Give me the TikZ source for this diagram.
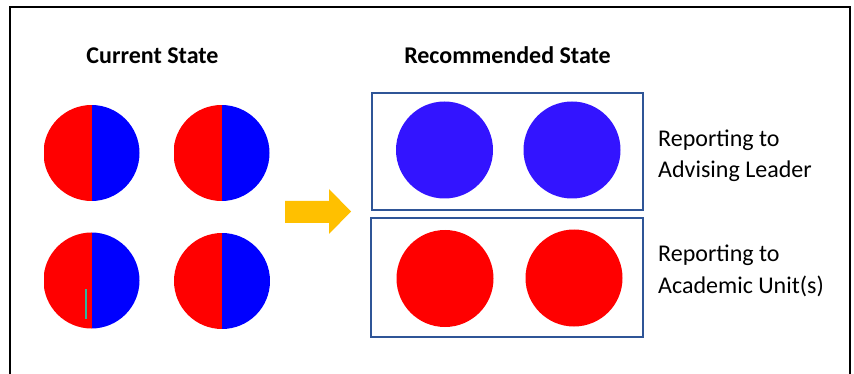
\documentclass[tikz,border=0pt]{standalone}
\usepackage{fontspec}
\setmainfont{Carlito}
\definecolor{halfred}{HTML}{FF0000}
\definecolor{halfblue}{HTML}{0000FF}
\definecolor{recblue}{HTML}{3314FF}
\definecolor{boxblue}{HTML}{2F5597}
\definecolor{arrowgold}{HTML}{FFC000}
\definecolor{marktone}{HTML}{2EB8A0}
\begin{document}
\begin{tikzpicture}[x=1pt,y=-1pt,
  splitdisc/.style={circle,minimum size=96pt,inner sep=0pt,
    path picture={
      \fill[halfred] (path picture bounding box.north west) rectangle (path picture bounding box.south);
      \fill[halfblue] (path picture bounding box.north) rectangle (path picture bounding box.south east);}},
  bluedisc/.style={circle,minimum size=97pt,inner sep=0pt,fill=recblue},
  reddisc/.style={circle,minimum size=97pt,inner sep=0pt,fill=halfred},
  groupbox/.style={draw=boxblue,line width=1.5pt},
  heading/.style={font=\fontsize{24}{28}\selectfont\bfseries,anchor=base,inner sep=0pt},
  sidelabel/.style={font=\fontsize{24}{28}\selectfont,anchor=base west,inner sep=0pt}]
\useasboundingbox (0,0) rectangle (854,374);
\fill[white] (0,0) rectangle (854,374);
\draw[line width=1.6pt] (10,376) -- (10,7) -- (850,7) -- (850,376);

\node[heading] (cur) at (152.5,63.3) {Current State};
\node[heading] (rec) at (507.5,63.3) {Recommended State};

\node[splitdisc] (c1) at (91.5,153) {};
\node[splitdisc] (c2) at (221.5,153) {};
\node[splitdisc] (c3) at (91.5,280.5) {};
\node[splitdisc] (c4) at (222,281) {};
\draw[marktone,line width=1.2pt] (86,289) -- (86,319);

\fill[arrowgold] (285,201) -- (329,201) -- (329,189) -- (351,211.5) -- (329,234) -- (329,223) -- (285,223) -- cycle;

\node[groupbox,minimum width=271pt,minimum height=117pt,inner sep=0pt] (topbox) at (507.5,151.5) {};
\node[groupbox,minimum width=272pt,minimum height=119pt,inner sep=0pt] (botbox) at (507,277.5) {};

\node[bluedisc] (b1) at (444.5,150) {};
\node[bluedisc] (b2) at (572,150) {};
\node[reddisc] (r1) at (445,278.5) {};
\node[reddisc] (r2) at (574,278) {};

\node[sidelabel] (lab1a) at (658,146.7) {Reporting to};
\node[sidelabel] (lab1b) at (658,178) {Advising Leader};
\node[sidelabel] (lab2a) at (658,261.7) {Reporting to};
\node[sidelabel] (lab2b) at (658,293) {Academic Unit(s)};
\end{tikzpicture}
\end{document}
